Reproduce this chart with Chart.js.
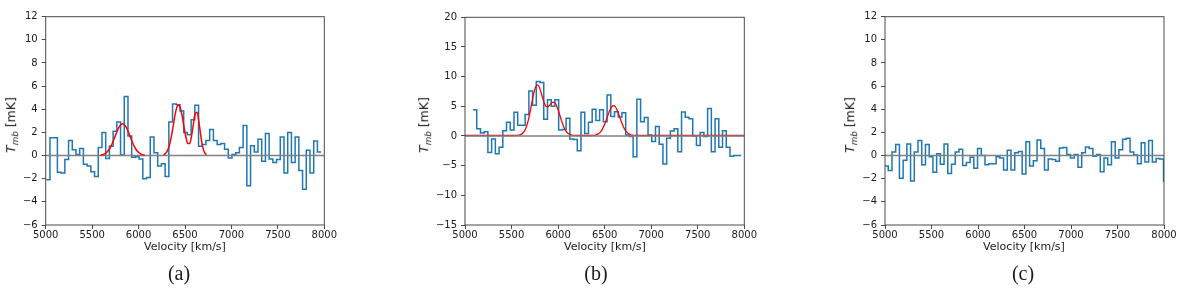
<!DOCTYPE html>
<html lang="en">
<head>
<meta charset="UTF-8">
<title>CO spectra (a) (b) (c)</title>
<script src="https://cdn.jsdelivr.net/npm/chart.js@4.4.1/dist/chart.umd.min.js"></script>
<style>
  body { margin: 0; background: #fff; font-family: 'DejaVu Sans', sans-serif; }
  #fig { position: relative; width: 1200px; height: 289px; overflow: hidden; }
  canvas { position: absolute; top: 0; }
  .xlab, .ylab, .cap { position: absolute; white-space: nowrap; color: #1a1a1a; }
  .xlab { font-size: 11px; line-height: 13px; top: 240px; transform: translateX(-50%); }
  .ylab { font-size: 12.5px; line-height: 14px; top: 125px; transform: translate(-50%, -50%) rotate(-90deg); }
  .ylab sub { font-size: 0.7em; vertical-align: -0.3em; font-style: italic; }
  .cap { font-family: 'Liberation Serif', serif; font-size: 20px; line-height: 22px; top: 262px; transform: translateX(-50%); }
</style>
</head>
<body>
<div id="fig">
  <canvas id="panelA" width="345" height="289" style="left:0px"></canvas>
  <canvas id="panelB" width="345" height="289" style="left:420px"></canvas>
  <canvas id="panelC" width="345" height="289" style="left:840px"></canvas>

  <div class="ylab" style="left:13px"><i>T</i><sub>mb</sub> [mK]</div>
  <div class="ylab" style="left:426px"><i>T</i><sub>mb</sub> [mK]</div>
  <div class="ylab" style="left:852px"><i>T</i><sub>mb</sub> [mK]</div>

  <div class="xlab" style="left:185px">Velocity [km/s]</div>
  <div class="xlab" style="left:605px">Velocity [km/s]</div>
  <div class="xlab" style="left:1024px">Velocity [km/s]</div>

  <div class="cap" style="left:179px">(a)</div>
  <div class="cap" style="left:596px">(b)</div>
  <div class="cap" style="left:1023px">(c)</div>
</div>

<script>
  // channel grids (left edge of first channel, width in km/s)
  const chanWidth = 40;
  const startA = 5006;
  const startB = 5086;
  const startC = 4995;

  // spectrum (a), mK per channel
  const tmbA = [-2.1, 1.53, 1.53, -1.45, -1.5, -0.35, 1.3, 0.5, 0.1, 0.6,
    -0.75, -0.9, -1.4, -1.8, 0.7, 2.0, -0.25, 0.8, 2.1, 2.9,
    0.05, 5.1, 1.7, -0.15, -0.1, -0.3, -2.0, -1.9, 1.6, 0.25,
    -0.9, -0.7, -1.8, 2.9, 4.45, 4.4, 3.85, 2.0, 1.8, 3.1,
    4.35, 0.8, 0.95, 1.3, 2.25, 1.3, 0.95, 1.05, 0.55, -0.2,
    0.1, 0.25, 0.7, 2.6, -2.6, 0.85, 0.3, 1.4, -0.5, 1.9,
    -0.3, -0.6, -0.35, 1.6, -1.5, 2.0, -0.6, 1.6, -1.3, -2.9,
    0.45, -1.5, 1.25, 0.3];

  // spectrum (b)
  const tmbB = [4.4, 1.2, 0.5, 0.7, -2.8, -0.5, -3.0, -1.9, 0.9, 2.3,
    1.0, 4.0, 1.8, 1.8, 3.6, 7.6, 5.2, 9.2, 9.0, 2.8,
    6.1, 5.0, 6.1, 1.0, 1.1, 3.0, -0.5, -0.6, -2.5, 4.0,
    0.4, 2.3, 4.5, 2.6, 4.4, 2.4, 6.9, 3.3, 4.1, 3.2,
    3.9, 0.15, -0.1, -3.5, 6.2, 2.4, 3.1, 0.15, -0.95, 1.6,
    -1.4, -4.7, -0.4, 0.85, 1.2, -2.65, 4.05, 3.15, 2.9, 0.0,
    -1.6, 0.6, -0.1, 4.65, -2.65, 2.9, -1.9, 0.9, -1.9, -3.4,
    -3.3, -3.3];

  // spectrum (c)
  const tmbC = [-0.9, -1.3, 0.3, 0.95, -1.95, -0.4, 1.0, -2.2, 0.3, 1.3,
    -0.8, 0.95, -0.1, -1.45, 0.15, -0.75, 1.0, -1.55, -0.75, 0.3,
    0.55, -0.85, -0.6, -0.15, -1.1, 0.6, 0.0, -0.8, -0.7, -0.7,
    -0.1, -0.2, -1.25, 0.45, -1.25, 0.25, 0.35, -1.6, 1.2, -0.9,
    -0.45, 1.35, 0.6, -1.25, -0.3, -0.35, -0.5, 0.65, 0.7, 0.1,
    -0.2, 0.1, -1.0, 0.25, 0.75, 0.6, -0.05, 0.1, -1.4, -0.2,
    -0.8, 1.2, -0.2, 0.5, 1.4, 1.5, 0.3, 0.05, -0.7, 1.1,
    -0.55, 1.3, -0.55, -0.25, -0.3, -2.2];

  // gaussian fits (velocity, mK)
  const fitA1V = [5588, 5608, 5628, 5648, 5668, 5688, 5708, 5728, 5748, 5768, 5788, 5808, 5828,
    5848, 5868, 5888, 5908, 5928, 5948, 5968, 5988, 6008, 6028, 6048, 6068];
  const fitA1T = [0.03, 0.06, 0.12, 0.22, 0.37, 0.59, 0.89, 1.26, 1.67, 2.08, 2.43, 2.67, 2.75,
    2.67, 2.43, 2.08, 1.67, 1.26, 0.89, 0.59, 0.37, 0.22, 0.12, 0.06, 0.03];

  const fitA2V = [6270, 6290, 6310, 6330, 6350, 6370, 6390, 6410, 6430, 6450, 6470, 6490,
    6510, 6530, 6550, 6570, 6590, 6610, 6630, 6650, 6670, 6690, 6710, 6730];
  const fitA2T = [0.06, 0.17, 0.41, 0.84, 1.53, 2.43, 3.38, 4.12, 4.40, 4.12, 3.38, 2.44,
    1.58, 1.04, 1.04, 1.66, 2.72, 3.65, 3.75, 2.90, 1.71, 0.77, 0.26, 0.07];

  const fitBV = [5000, 5500, 5520, 5540, 5560, 5580, 5600, 5620, 5640, 5660, 5680, 5700, 5720,
    5740, 5760, 5780, 5800, 5820, 5840, 5860, 5880, 5900, 5920, 5940, 5960, 5980, 6000,
    6020, 6040, 6060, 6080, 6100, 6120, 6140, 6160, 6180, 6200,
    6360, 6380, 6400, 6420, 6440, 6460, 6480, 6500, 6520, 6540, 6560, 6580, 6600,
    6620, 6640, 6660, 6680, 6700, 6720, 6740, 6760, 6780, 6800, 6820, 6840, 8000];
  const fitBT = [0.08, 0.08, 0.08, 0.09, 0.1, 0.14, 0.24, 0.45, 0.86, 1.58, 2.68, 4.12, 5.76,
    7.27, 8.30, 8.60, 8.14, 7.17, 6.08, 5.25, 4.91, 5.03, 5.39, 5.68, 5.68, 5.23, 4.42,
    3.42, 2.42, 1.57, 0.95, 0.54, 0.30, 0.18, 0.12, 0.09, 0.08,
    0.08, 0.11, 0.16, 0.26, 0.46, 0.78, 1.29, 1.98, 2.83, 3.72, 4.50, 5.01, 5.12,
    4.80, 4.14, 3.28, 2.39, 1.61, 1.01, 0.60, 0.35, 0.20, 0.13, 0.09, 0.08, 0.08];

  const velMin = 5000, velMax = 8000, velStep = 500;

  Chart.defaults.font.family = "'DejaVu Sans', sans-serif";
  Chart.defaults.font.size = 10;
  Chart.defaults.color = '#1a1a1a';

  function stepPoints(start, vals) {
    const pts = vals.map((t, i) => ({ x: start + i * chanWidth, y: t }));
    pts.push({ x: start + vals.length * chanWidth, y: vals[vals.length - 1] });
    return pts;
  }

  function pairs(vs, ts) {
    return vs.map((v, i) => ({ x: v, y: ts[i] }));
  }

  const minusFmt = v => (v < 0 ? '\u2212' + Math.abs(v) : String(v));

  const frame = {
    id: 'frame',
    afterDraw(chart) {
      const { ctx, chartArea: a } = chart;
      ctx.save();
      ctx.strokeStyle = '#4a4a4a';
      ctx.lineWidth = 1;
      ctx.strokeRect(a.left, a.top, a.right - a.left, a.bottom - a.top);
      ctx.restore();
    }
  };

  function redLine(points, width) {
    return { data: points, borderColor: '#ff0000', borderWidth: width || 1.5, pointRadius: 0,
      cubicInterpolationMode: 'monotone', fill: false };
  }
  function zeroLine() {
    return { data: [{ x: velMin, y: 0 }, { x: velMax, y: 0 }], borderColor: '#808080',
      borderWidth: 1.5, pointRadius: 0, fill: false };
  }
  function blueSteps(points) {
    return { data: points, borderColor: '#1f77b4', borderWidth: 1.5, pointRadius: 0,
      stepped: true, fill: false };
  }

  function makePanel(id, p, datasets) {
    new Chart(document.getElementById(id), {
      type: 'line',
      data: { datasets },
      options: {
        responsive: false,
        animation: false,
        devicePixelRatio: 1,
        events: [],
        layout: { padding: { left: 0, right: p.canvasW - (p.axR - p.canvasL), top: p.top, bottom: 0 } },
        plugins: { legend: { display: false }, tooltip: { enabled: false } },
        scales: {
          x: {
            type: 'linear', min: velMin, max: velMax,
            ticks: { stepSize: velStep, callback: v => String(v), maxRotation: 0, autoSkip: false, padding: 0 },
            grid: { drawOnChartArea: false, tickLength: 4, color: '#4a4a4a', lineWidth: 1 },
            border: { display: false },
            afterFit: s => { s.height = 289 - p.bottom; }
          },
          y: {
            min: p.yMin, max: p.yMax,
            ticks: { stepSize: p.yStep, callback: minusFmt, padding: 4 },
            grid: { drawOnChartArea: false, tickLength: 4, color: '#4a4a4a', lineWidth: 1 },
            border: { display: false },
            afterFit: s => { s.width = p.axL - p.canvasL; }
          }
        }
      },
      plugins: [frame]
    });
  }

  makePanel('panelA', { canvasL: 0, canvasW: 345, axL: 45.7, axR: 324.3, top: 16.7, bottom: 225, yMin: -6, yMax: 12, yStep: 2 }, [
    redLine(pairs(fitA1V, fitA1T)),
    redLine(pairs(fitA2V, fitA2T)),
    zeroLine(),
    blueSteps(stepPoints(startA, tmbA))
  ]);

  makePanel('panelB', { canvasL: 420, canvasW: 345, axL: 465, axR: 744.3, top: 17.3, bottom: 225, yMin: -15, yMax: 20, yStep: 5 }, [
    zeroLine(),
    redLine(pairs(fitBV, fitBT), 1.3),
    blueSteps(stepPoints(startB, tmbB))
  ]);

  makePanel('panelC', { canvasL: 840, canvasW: 345, axL: 885, axR: 1164, top: 16.7, bottom: 225, yMin: -6, yMax: 12, yStep: 2 }, [
    zeroLine(),
    blueSteps(stepPoints(startC, tmbC))
  ]);
</script>
</body>
</html>
